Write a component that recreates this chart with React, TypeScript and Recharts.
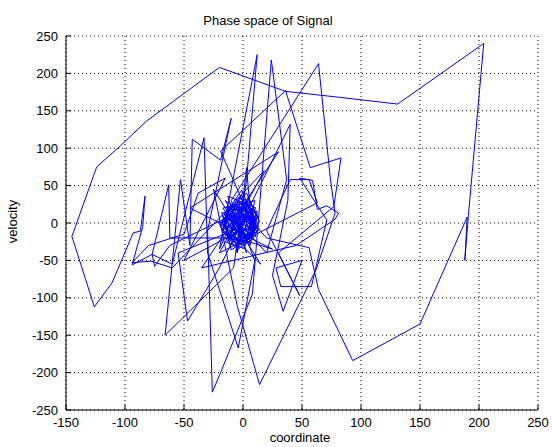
import { LineChart, Line, XAxis, YAxis, CartesianGrid } from "recharts";

const xTicks = [-150, -100, -50, 0, 50, 100, 150, 200, 250];
const yTicks = [-250, -200, -150, -100, -50, 0, 50, 100, 150, 200, 250];

// trajectory pieces, in drawing order: [coordinate, velocity]
const startCluster = [
  [-3, 12], [4, 25], [10, 8], [6, -18], [-8, -25], [-16, -5], [-12, 18], [0, 28], [12, 10], [9, -15],
  [-4, -30], [-17, -12], [-14, 15], [-2, 22], [8, 5], [5, -20], [-9, -22], [-18, 2], [-8, 24], [6, 18],
  [13, -4], [2, -26], [-12, -18], [-15, 10], [-3, 34], [11, 14], [8, -12], [-6, -28], [-19, -6], [-10, 20],
  [3, 40], [14, 2], [4, -22], [-10, -36], [-16, 4], [-5, 20], [7, 12], [10, -10], [-2, -24], [-14, -14],
];
const chainA = [
  [-20, -35], [12, 225], [3, 58], [-8, -60], [-66, -150], [-53, 58], [-45, -30], [-43, 112], [-19, 84],
  [-10, 140], [-30, -10], [-26, -226], [-19, -200], [8, -95], [24, 218], [37, 58], [20, -40],
];
const clusterB = [
  [-11, 12], [1, 32], [9, 6], [3, -16], [-7, -32], [-20, -2], [-6, 16], [5, 22], [12, -6], [-1, -20],
  [-13, -8], [-9, 26], [4, 14], [11, -18], [-4, -14], [-17, 8], [-1, 44], [10, 0], [2, -30], [-15, -20],
];
const chainB = [
  [-62, -20], [-63, 51], [-77, -42], [-60, -55], [-33, 114], [-30, -40], [-4, -167], [10, -50], [-10, 30],
  [64, 213], [74, 60], [78, 13], [62, -62], [14, -216], [-5, -110], [-25, 45], [15, -55], [-20, 0],
];
const clusterC = [
  [-8, 6], [6, 28], [13, 8], [0, -12], [-11, -30], [-18, 14], [-3, 8], [8, 18], [7, -24], [-6, -10],
  [-14, 22], [2, 16], [12, -12], [-5, -22], [-16, -2], [-4, 28], [9, 10], [5, -8], [-10, -16], [-7, 14],
  [3, -40], [-13, 36], [11, 20], [-2, -6],
];
const chainC = [
  [-55, -40], [-47, -131], [-20, -60], [40, 132], [38, 30], [25, -70], [34, -118], [50, -50], [28, -60],
  [32, -85], [58, -85], [71, 4], [48, 60], [59, 57], [63, 18], [71, 23], [81, 13], [78, 5], [45, -30],
  [-35, -60], [30, 95], [-45, 20], [25, -35],
];
const clusterD = [
  [-9, -18], [4, 6], [-15, 30], [6, -30], [12, 16], [-18, -10], [-1, 38], [9, -22], [-12, -4], [3, 20],
  [-6, -38], [14, -8], [-10, 24], [7, 4], [-3, -16], [-17, 20], [10, 30], [1, -34], [-14, -26], [5, 10],
];
const chainD = [
  [-19, 96], [36, 177], [57, 74], [83, 87], [77, 22], [30, -40], [48, -97], [20, -10], [40, 58],
  [56, 58], [63, 27], [-20, -40], [18, 70], [-60, -60], [-78, -51], [-94, -53], [-80, -30], [-50, -15],
  [-38, 40], [-15, 60], [-50, -50], [0, -8], [-5, -40], [3, 74], [8, -20],
];
const clusterE = [
  [-8, -4], [3, 10], [-5, -6], [7, -14], [-2, 18], [-12, 4], [1, -10], [8, 20], [-9, -18], [4, 6],
  [-16, 12], [11, -2], [-4, 30], [6, -26], [-13, -20], [0, 14],
];
const outerLoop = [
  [20, -20], [56, -33], [64, -89], [93, -184], [150, -135], [190, 8], [188, -50], [191, 10], [204, 240],
  [131, 159], [82, 168], [36, 176], [-20, 208], [-82, 136], [-104, 103], [-124, 75], [-145, -18],
  [-126, -112], [-111, -80], [-93, -13], [-87, -11], [-83, 36], [-85, -5], [-94, -56], [-77, -42],
  [-75, -58], [-62, -30], [-10, 10],
];
const endCluster = [
  [2, -18], [-6, 22], [9, 12], [-11, -12], [5, 36], [-3, -28], [-15, 6], [7, -6],
];

const pieces = [startCluster, chainA, clusterB, chainB, clusterC, chainC, clusterD, chainD, clusterE, outerLoop, endCluster];
const data = pieces.flat().map(([coordinate, velocity]) => ({ coordinate, velocity }));

const font = "'Liberation Sans', Arial, Helvetica, sans-serif";
const tickStyle = { fontSize: 13, fill: "#000", fontFamily: font };

export default function App() {
  return (
    <div style={{ position: "absolute", left: 0, top: 0, width: 552, height: 447, background: "#fff", fontFamily: font }}>
      <div style={{ position: "absolute", left: 168, width: 200, top: 13, textAlign: "center", fontSize: 13 }}>
        Phase space of Signal
      </div>
      <div style={{ position: "absolute", left: 200, width: 200, top: 430, textAlign: "center", fontSize: 13 }}>
        coordinate
      </div>
      <div style={{ position: "absolute", left: -38, top: 214, width: 100, textAlign: "center", fontSize: 13, transform: "rotate(-90deg)" }}>
        velocity
      </div>
      <LineChart width={552} height={447} data={data} margin={{ top: 36, right: 14, bottom: 15, left: 26 }}>
        <XAxis xAxisId="top" orientation="top" type="number" dataKey="coordinate" domain={[-150, 250]} ticks={xTicks}
          height={0} tick={false} tickSize={-5} stroke="#000" allowDataOverflow />
        <YAxis yAxisId="right" orientation="right" type="number" dataKey="velocity" domain={[-250, 250]} ticks={yTicks}
          width={0} tick={false} tickSize={-5} stroke="#000" allowDataOverflow />
        <XAxis xAxisId="b" type="number" dataKey="coordinate" domain={[-150, 250]} ticks={xTicks} height={22}
          tickSize={-5} tickMargin={13} stroke="#000" tick={tickStyle} allowDataOverflow />
        <YAxis yAxisId="l" type="number" dataKey="velocity" domain={[-250, 250]} ticks={yTicks} width={40}
          tickSize={-5} tickMargin={13} stroke="#000" tick={tickStyle} allowDataOverflow />
        <CartesianGrid xAxisId="b" yAxisId="l" stroke="#000" strokeDasharray="1 3" />
        <Line xAxisId="b" yAxisId="l" dataKey="velocity" stroke="#0000ff" strokeWidth={1} dot={false}
          isAnimationActive={false} strokeLinejoin="miter" />
      </LineChart>
    </div>
  );
}
